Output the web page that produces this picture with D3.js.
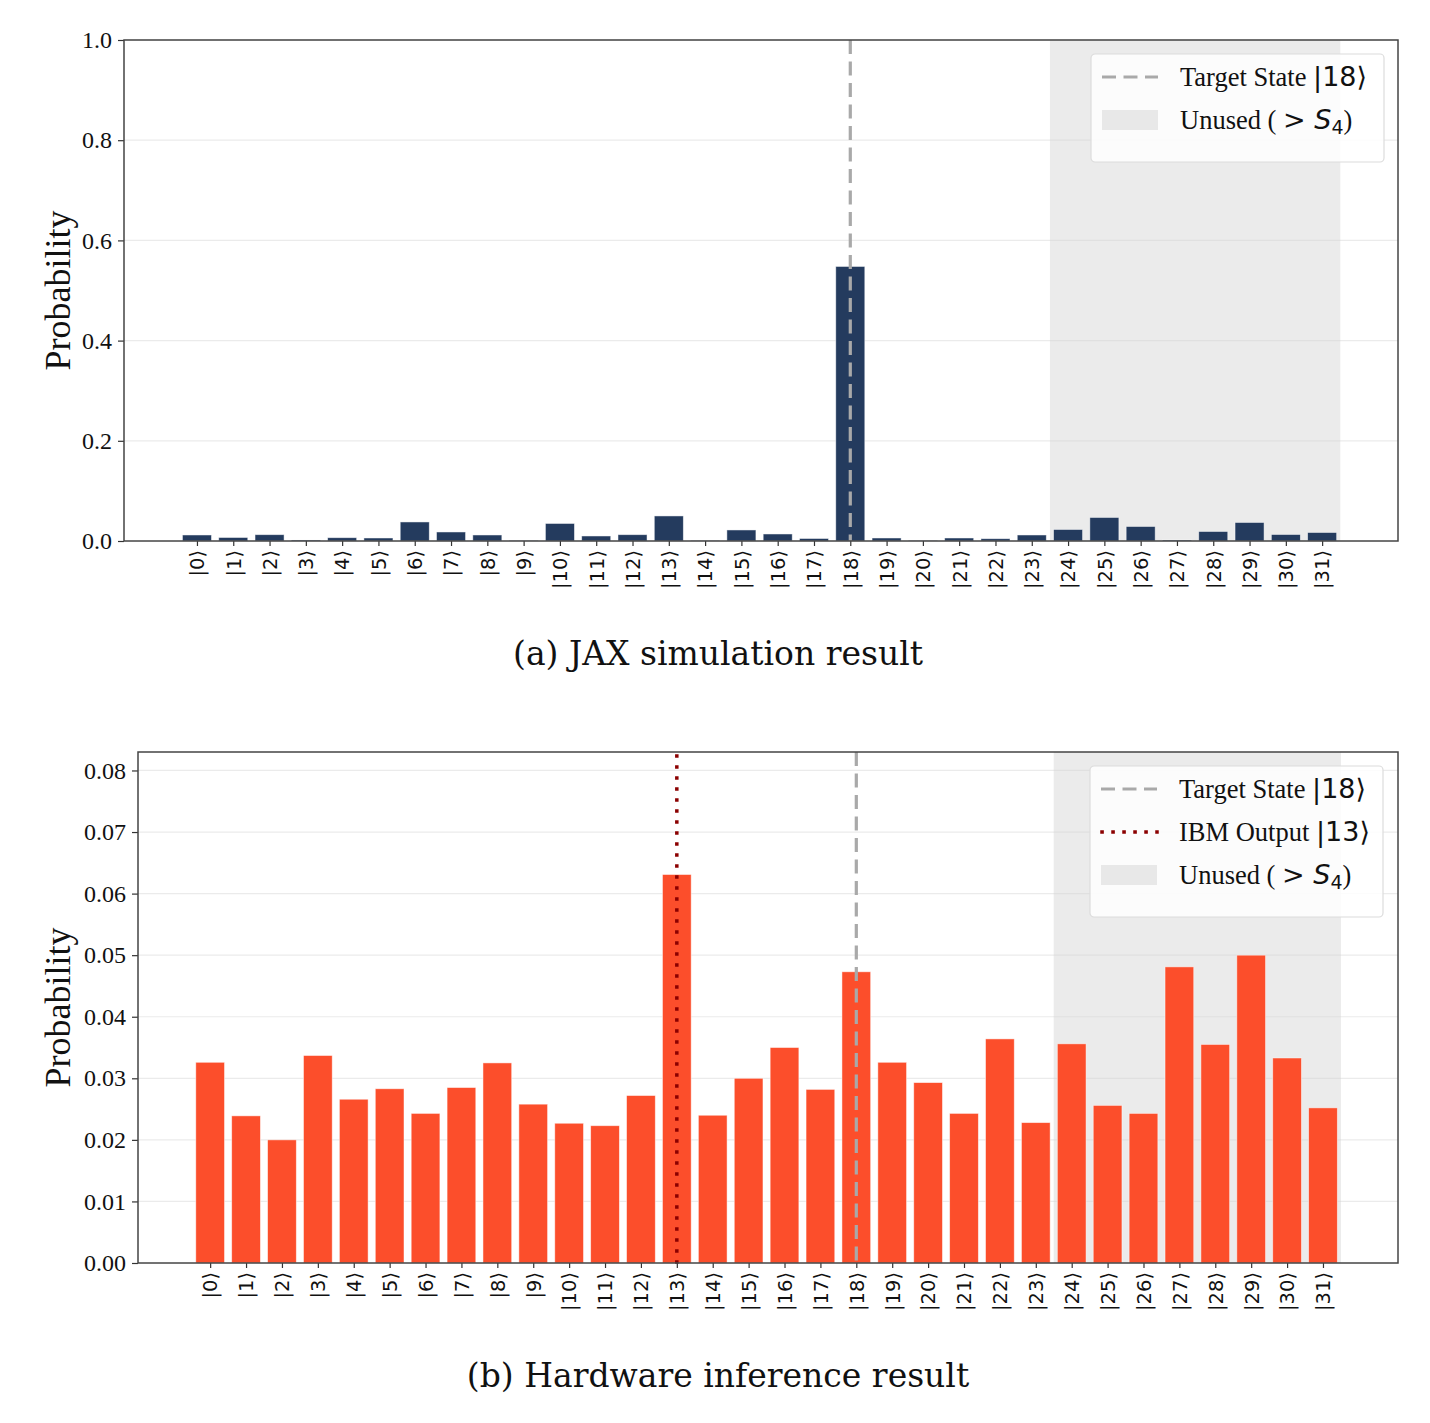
<!DOCTYPE html>
<html>
<head>
<meta charset="utf-8">
<script src="https://cdn.jsdelivr.net/npm/d3@7"></script>
<style>
  body { margin: 0; background: #fff; }
  svg { display: block; }
</style>
</head>
<body>
<svg id="chart" width="1430" height="1423"></svg>
<script>
// basis states |0> .. |31>
var states = d3.range(32);
var stateLabels = states.map(function(i){ return "|" + i + "\u27E9"; });

// (a) JAX simulation probabilities
var jaxProb = [0.012, 0.007, 0.0126, 0.002, 0.0066, 0.006, 0.038, 0.018, 0.012, 0.001,
               0.035, 0.010, 0.0126, 0.050, 0.001, 0.022, 0.014, 0.005, 0.548, 0.006,
               0.001, 0.006, 0.0046, 0.012, 0.023, 0.047, 0.029, 0.002, 0.019, 0.037,
               0.013, 0.017];

// (b) hardware (IBM) probabilities
var hwProb = [0.0326, 0.0239, 0.0200, 0.0337, 0.0266, 0.0283, 0.0243, 0.0285, 0.0325, 0.0258,
              0.0227, 0.0223, 0.0272, 0.0631, 0.0240, 0.0300, 0.0350, 0.0282, 0.0473, 0.0326,
              0.0293, 0.0243, 0.0364, 0.0228, 0.0356, 0.0256, 0.0243, 0.0481, 0.0355, 0.0500,
              0.0333, 0.0252];

var jaxTicks = [0, 0.2, 0.4, 0.6, 0.8, 1.0];
var hwTicks = [0, 0.01, 0.02, 0.03, 0.04, 0.05, 0.06, 0.07, 0.08];

var targetState = 18;
var ibmState = 13;
var unusedFrom = 24;

var svg = d3.select("#chart");

function drawPanel(cfg) {
    var g = svg.append("g");
    var x = d3.scaleLinear().domain([-2.01, 33.09]).range([cfg.left, cfg.right]);
    var y = d3.scaleLinear().domain(cfg.yDomain).range([cfg.bottom, cfg.top]);

    // grid
    g.selectAll(".grid").data(cfg.ticks.slice(1)).enter().append("line")
        .attr("x1", cfg.left).attr("x2", cfg.right)
        .attr("y1", function(d){ return y(d); }).attr("y2", function(d){ return y(d); })
        .attr("stroke", "#ebebeb").attr("stroke-width", 1.2);

    // unused span
    g.append("rect")
        .attr("x", x(unusedFrom - 0.5)).attr("width", x(31.5) - x(unusedFrom - 0.5))
        .attr("y", cfg.top).attr("height", cfg.bottom - cfg.top)
        .attr("fill", "#d3d3d3").attr("fill-opacity", 0.45);

    // bars
    g.selectAll(".bar").data(cfg.values).enter().append("rect")
        .attr("x", function(d, i){ return x(i - 0.4); })
        .attr("width", x(0.8) - x(0))
        .attr("y", function(d){ return y(d); })
        .attr("height", function(d){ return cfg.bottom - y(d); })
        .attr("fill", cfg.color)
        .attr("stroke", "#fff").attr("stroke-width", 0.8).attr("stroke-opacity", 0.6);

    // vertical marker lines
    if (cfg.ibm) {
        g.append("line")
            .attr("x1", x(ibmState)).attr("x2", x(ibmState))
            .attr("y1", cfg.top + 4).attr("y2", cfg.bottom)
            .attr("stroke", "#8b0000").attr("stroke-width", 3.5)
            .attr("stroke-dasharray", "0.1 10.9").attr("stroke-linecap", "square");
    }
    g.append("line")
        .attr("x1", x(targetState)).attr("x2", x(targetState))
        .attr("y1", cfg.top).attr("y2", cfg.bottom)
        .attr("stroke", "#a9a9a9").attr("stroke-width", 3.2)
        .attr("stroke-dasharray", "14 7.5");

    // y axis
    var yAxis = d3.axisLeft(y).tickValues(cfg.ticks).tickFormat(d3.format(cfg.fmt)).tickSize(6).tickPadding(6);
    var ya = g.append("g").attr("transform", "translate(" + cfg.left + ",0)").call(yAxis);
    ya.select(".domain").remove();
    ya.selectAll(".tick line").attr("stroke", "#333").attr("stroke-width", 1.2);
    ya.selectAll(".tick text").attr("font-family", "Liberation Serif").attr("font-size", 24).attr("fill", "#111");

    // x axis
    var xa = g.append("g").attr("transform", "translate(0," + cfg.bottom + ")")
        .call(d3.axisBottom(x).tickValues(states).tickFormat(function(d){ return stateLabels[d]; }).tickSize(5));
    xa.select(".domain").remove();
    xa.selectAll(".tick line").attr("stroke", "#333").attr("stroke-width", 1.2);
    xa.selectAll(".tick text")
        .attr("font-family", "DejaVu Sans").attr("font-size", 19.5).attr("fill", "#111")
        .attr("text-anchor", "end").attr("dy", "0.35em")
        .attr("transform", "translate(0,9) rotate(-90)")
        .attr("y", 0).attr("x", 0);

    // frame
    g.append("rect")
        .attr("x", cfg.left).attr("y", cfg.top)
        .attr("width", cfg.right - cfg.left).attr("height", cfg.bottom - cfg.top)
        .attr("fill", "none").attr("stroke", "#444").attr("stroke-width", 1.5);

    // y label
    g.append("text")
        .attr("transform", "translate(" + cfg.yLabelX + "," + ((cfg.top + cfg.bottom) / 2) + ") rotate(-90)")
        .attr("text-anchor", "middle").attr("dy", "0.35em")
        .attr("font-family", "Liberation Serif").attr("font-size", 36).attr("fill", "#111")
        .text("Probability");

    // legend
    var lg = g.append("g").attr("transform", "translate(" + cfg.legX + "," + cfg.legY + ")");
    var rows = cfg.ibm ? ["target", "ibm", "unused"] : ["target", "unused"];
    lg.append("rect").attr("x", 0).attr("y", 0).attr("width", 293).attr("height", 22 + rows.length * 43)
        .attr("rx", 4).attr("fill", "#fff").attr("fill-opacity", 0.85)
        .attr("stroke", "#dcdcdc").attr("stroke-width", 1.2);
    rows.forEach(function(r, k){
        var cy = 23 + k * 43;
        if (r === "target") {
            lg.append("line").attr("x1", 11).attr("x2", 67).attr("y1", cy).attr("y2", cy)
                .attr("stroke", "#a9a9a9").attr("stroke-width", 3.2).attr("stroke-dasharray", "14 7.5");
        } else if (r === "ibm") {
            lg.append("line").attr("x1", 12).attr("x2", 67).attr("y1", cy).attr("y2", cy)
                .attr("stroke", "#8b0000").attr("stroke-width", 3.5)
                .attr("stroke-dasharray", "0.1 10.9").attr("stroke-linecap", "square");
        } else {
            lg.append("rect").attr("x", 11).attr("y", cy - 10).attr("width", 56).attr("height", 20)
                .attr("fill", "#d3d3d3").attr("fill-opacity", 0.5);
        }
        var t = lg.append("text").attr("x", 89).attr("y", cy + 9)
            .attr("font-family", "Liberation Serif").attr("font-size", 26.5).attr("fill", "#111");
        if (r === "target") {
            t.append("tspan").text("Target State ");
            t.append("tspan").attr("font-family", "DejaVu Sans").attr("font-size", 27).text("|" + targetState + "\u27E9");
        } else if (r === "ibm") {
            t.append("tspan").text("IBM Output ");
            t.append("tspan").attr("font-family", "DejaVu Sans").attr("font-size", 27).text("|" + ibmState + "\u27E9");
        } else {
            t.append("tspan").text("Unused ( ");
            t.append("tspan").attr("font-family", "DejaVu Sans").attr("font-size", 27).text(">");
            t.append("tspan").attr("font-family", "DejaVu Sans").attr("font-size", 27).attr("font-style", "italic").text(" S");
            t.append("tspan").attr("font-family", "DejaVu Sans").attr("font-size", 19).attr("dy", 5).text("4");
            t.append("tspan").attr("dy", -5).text(")");
        }
    });

    // caption
    svg.append("text")
        .attr("x", 718).attr("y", cfg.captionY)
        .attr("text-anchor", "middle")
        .attr("font-family", "DejaVu Serif").attr("font-size", 33).attr("fill", "#111")
        .text(cfg.caption);
}

drawPanel({
    values: jaxProb, color: "#243b5e",
    left: 124, right: 1398, top: 40, bottom: 541,
    yDomain: [0, 1], ticks: jaxTicks, fmt: ".1f",
    yLabelX: 57, legX: 1091, legY: 54, ibm: false,
    caption: "(a) JAX simulation result", captionY: 665
});

drawPanel({
    values: hwProb, color: "#fc4e2b",
    left: 138, right: 1398, top: 752, bottom: 1263,
    yDomain: [0, 0.083], ticks: hwTicks, fmt: ".2f",
    yLabelX: 57, legX: 1090, legY: 766, ibm: true,
    caption: "(b) Hardware inference result", captionY: 1387
});
</script>
</body>
</html>
